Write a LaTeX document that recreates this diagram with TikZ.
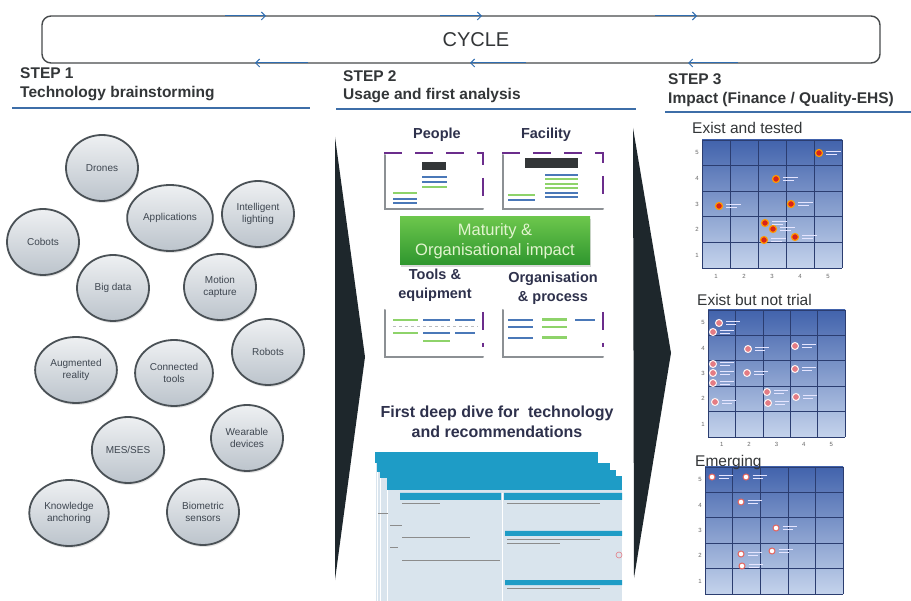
\documentclass[tikz,border=0pt]{standalone}
\usepackage{fontspec}
\setmainfont{Liberation Sans}
\usetikzlibrary{shapes.geometric,shadows,arrows.meta}

\definecolor{cycleblue}{HTML}{2F6DB0}
\definecolor{rulerblue}{HTML}{3D6EA8}
\definecolor{headgrey}{HTML}{333638}
\definecolor{ballline}{HTML}{4A5156}
\definecolor{balltop}{HTML}{EEF0F2}
\definecolor{ballbot}{HTML}{BCC4CC}
\definecolor{balltext}{HTML}{3E4650}
\definecolor{chevron}{HTML}{1E272C}
\definecolor{framepurple}{HTML}{6B2D8C}
\definecolor{axisgrey}{HTML}{8C9094}
\definecolor{thumbblue}{HTML}{4A78B8}
\definecolor{thumbgreen}{HTML}{8ED36A}
\definecolor{greentop}{HTML}{6CC64C}
\definecolor{greenbot}{HTML}{2E962E}
\definecolor{greentext}{HTML}{E2F4CF}
\definecolor{sheetteal}{HTML}{1E9CC6}
\definecolor{sheetbody}{HTML}{D9E4ED}
\definecolor{charttop}{HTML}{4263AC}
\definecolor{chartbot}{HTML}{C4D3EC}
\definecolor{gridnavy}{HTML}{2B3D70}
\definecolor{dotred}{HTML}{D8231B}
\definecolor{dotpink}{HTML}{E47C84}

% blue 5x5 chart with its y scale
\newcommand{\impactgrid}[5]{%
  \shade[top color=charttop, bottom color=chartbot] (#2,#3) rectangle (#4,#5);
  \foreach \k in {0,...,5}{%
    \pgfmathsetmacro{\gx}{#2+\k*(#4-#2)/5}%
    \pgfmathsetmacro{\gy}{#3+\k*(#5-#3)/5}%
    \draw[gridline] (\gx,#3) -- (\gx,#5);
    \draw[gridline] (#2,\gy) -- (#4,\gy);
  }%
  \foreach \k in {1,...,5}{%
    \pgfmathsetmacro{\ly}{#5-(\k-0.5)*(#5-#3)/5}%
    \node[axislabel] (#1y\k) at (#2-5,\ly) {\k};
  }%
}

\begin{document}
\begin{tikzpicture}[x=1pt,y=-1pt,
  techball/.style={ellipse, draw=ballline, line width=1.8pt, top color=balltop, bottom color=ballbot,
    minimum width=72, minimum height=66, align=center, text=balltext,
    font=\fontsize{10}{11.5}\selectfont, drop shadow={opacity=0.2, shadow xshift=1pt, shadow yshift=-2pt}},
  stephead/.style={anchor=west, text=headgrey, font=\bfseries\fontsize{15.5}{18}\selectfont, inner sep=0pt},
  steprule/.style={rulerblue, line width=1.8pt},
  cyclearrow/.style={cycleblue, line width=1pt, -{Straight Barb[length=4pt,width=8pt]}},
  thumbaxis/.style={axisgrey, line width=2pt, line cap=round},
  thumbedge/.style={framepurple, line width=2.6pt, dash pattern=on 18pt off 13pt},
  thumbtitle/.style={text=headgrey!90!blue, font=\bfseries\fontsize{14.5}{19}\selectfont, align=center},
  thumbline/.style={line width=1.6pt},
  gridline/.style={gridnavy, line width=0.6pt},
  axislabel/.style={text=black!60, font=\fontsize{6}{7}\selectfont, inner sep=0pt},
  charttitle/.style={anchor=west, text=headgrey, font=\fontsize{15.5}{18}\selectfont, inner sep=0pt},
  testeddot/.style={circle, fill=dotred, draw=orange!80!yellow, line width=1.2pt, inner sep=0pt, minimum size=7},
  trialdot/.style={circle, fill=dotpink, draw=white!85!pink, line width=1pt, inner sep=0pt, minimum size=7},
  emergedot/.style={circle, fill=white, draw=dotred!70, line width=1pt, inner sep=0pt, minimum size=6},
  dotnote/.style={white!90!blue, line width=0.9pt}
]
\useasboundingbox[fill=white] (0,0) rectangle (911,601);

% cycle box
\node[draw=headgrey!90, line width=1.4pt, rounded corners=9pt, minimum width=838, minimum height=47] (cycle) at (461,39.5) {};
\node[font=\fontsize{20}{24}\selectfont, text=headgrey] (cyclelabel) at (476,40) {CYCLE};
\foreach \s/\e [count=\i] in {225/266, 440/482, 655/697}{
  \coordinate (fwd\i a) at (\s,16);
  \coordinate (fwd\i b) at (\e,16);
  \draw[cyclearrow] (fwd\i a) -- (fwd\i b);
}
\foreach \s/\e [count=\i] in {308/255, 526/470, 738/688}{
  \coordinate (back\i a) at (\s,63);
  \coordinate (back\i b) at (\e,63);
  \draw[cyclearrow] (back\i a) -- (back\i b);
}

% step headers
\node[stephead] (step1) at (20,73) {STEP 1};
\node[stephead] (step1t) at (20,94) {Technology brainstorming};
\draw[steprule] (12,108) -- (310,108);
\node[stephead] (step2) at (343,76) {STEP 2};
\node[stephead] (step2t) at (343,96) {Usage and first analysis};
\draw[steprule] (336,109) -- (636,109);
\node[stephead] (step3) at (668,79) {STEP 3};
\node[stephead] (step3t) at (668,99) {Impact (Finance / Quality-EHS)};
\draw[steprule] (665,112) -- (911,112);

% step 1: technologies
\node[techball] (drones) at (102,168) {Drones};
\node[techball] (apps) at (170,218) {Applications};
\node[techball] (lighting) at (258,214) {Intelligent\\lighting};
\node[techball] (cobots) at (43,242) {Cobots};
\node[techball] (bigdata) at (113,288) {Big data};
\node[techball] (motion) at (220,287) {Motion\\capture};
\node[techball] (robots) at (268,352) {Robots};
\node[techball] (augmented) at (76,370) {Augmented\\reality};
\node[techball] (connected) at (174,373) {Connected\\tools};
\node[techball] (mes) at (128,450) {MES/SES};
\node[techball] (wearable) at (247,438) {Wearable\\devices};
\node[techball] (knowledge) at (69,513) {Knowledge\\anchoring};
\node[techball] (biometric) at (203,512) {Biometric\\sensors};

% chevrons
\fill[chevron] (335,137) -- (365,357) -- (335,580) -- cycle;
\fill[chevron] (633,128) -- (671,353) -- (634,578) -- cycle;

% step 2: four thumbnails
\node[thumbtitle] (people) at (437,135) {People};
\node[thumbtitle] (facility) at (546,135) {Facility};
\node[thumbtitle] (tools) at (435,285) {Tools \&\\equipment};
\node[thumbtitle] (orga) at (553,288) {Organisation\\\& process};

\draw[thumbaxis] (385,155) -- (385,209) -- (483,209);
\draw[thumbedge] (384,153) -- (483,153) -- (483,205);
\fill[headgrey] (422,162) rectangle (446,170);
\draw[thumbline,thumbblue] (422,177) -- (447,177) (422,182) -- (447,182) (393,199) -- (417,199) (393,203) -- (417,203);
\draw[thumbline,thumbgreen] (422,187) -- (447,187) (393,193) -- (417,193);

\draw[thumbaxis] (503,155) -- (503,209) -- (603,209);
\draw[thumbedge] (502,153) -- (603,153) -- (603,205);
\fill[headgrey] (525,158) rectangle (578,168);
\draw[thumbline,thumbblue] (545,175) -- (578,175) (545,193) -- (578,193) (545,197) -- (578,197) (508,200) -- (535,200);
\draw[thumbline,thumbgreen] (545,179) -- (578,179) (545,184) -- (578,184) (545,188) -- (578,188) (508,195) -- (535,195);

\draw[thumbaxis] (385,310) -- (385,357) -- (483,357);
\draw[thumbedge] (483,312) -- (483,347);
\draw[thumbline,thumbgreen] (393,320) -- (418,320) (393,333) -- (418,333) (423,341) -- (450,341);
\draw[thumbline,thumbblue] (423,320) -- (450,320) (455,320) -- (475,320) (423,333) -- (450,333) (455,333) -- (475,333);
\draw[axisgrey!60, dashed] (393,326) -- (478,326);

\draw[thumbaxis] (503,310) -- (503,357) -- (603,357);
\draw[thumbedge] (603,312) -- (603,347);
\draw[thumbline,thumbblue] (508,320) -- (533,320) (508,327) -- (533,327) (508,338) -- (533,338) (575,320) -- (595,320);
\draw[line width=3pt,thumbgreen] (542,320) -- (567,320) (542,338) -- (567,338);
\draw[thumbline,thumbgreen] (542,327) -- (567,327);

\node[top color=greentop, bottom color=greenbot, text=greentext, font=\fontsize{16.5}{20}\selectfont,
  minimum width=190, minimum height=48, inner sep=1pt, align=center, drop shadow={opacity=0.3, shadow xshift=1pt, shadow yshift=-2pt}]
  (maturity) at (495,241) {Maturity \&\\Organisational impact};

% step 2: deep dive sheets
\node[thumbtitle, font=\bfseries\fontsize{16}{20}\selectfont] (deepdive) at (497,422) {First deep dive for\ \ technology\\and recommendations};
\filldraw[fill=sheetbody, draw=white, line width=0.6pt] (375,452) rectangle (598,601);
\fill[sheetteal] (375,452) rectangle (598,463);
\filldraw[fill=sheetbody, draw=white, line width=0.6pt] (377,463) rectangle (610,601);
\fill[sheetteal] (377,463) rectangle (610,472);
\filldraw[fill=sheetbody, draw=white, line width=0.6pt] (380,470) rectangle (616,601);
\fill[sheetteal] (380,470) rectangle (616,478);
\filldraw[fill=sheetbody, draw=white, line width=0.6pt] (387,476) rectangle (622,601);
\fill[sheetteal] (387,476) rectangle (622,490);
\fill[sheetteal] (400,493) rectangle (501,500) (504,493) rectangle (622,500)
  (505,531) rectangle (622,536) (505,580) rectangle (622,585);
\draw[white, line width=0.8pt] (502,493) -- (502,601);
\draw[black!45, line width=0.5pt] (402,503) -- (440,503) (507,503) -- (600,503) (378,513) -- (388,513)
  (390,525) -- (402,525) (402,537) -- (470,537) (507,539) -- (600,539) (507,543) -- (560,543)
  (390,547) -- (398,547) (402,560) -- (500,560) (507,588) -- (600,588);
\draw[dotpink, line width=0.6pt] (619,555) circle (3);

% step 3: impact charts
\impactgrid{tested}{702}{140}{842}{268}
\foreach \k in {1,...,5}{
  \pgfmathsetmacro{\lx}{702+(\k-0.5)*28}
  \node[axislabel] (testedx\k) at (\lx,276) {\k};
}
\node[charttitle] (tested) at (692,128) {Exist and tested};
\foreach \px/\py [count=\i] in {819/153, 776/179, 719/206, 791/204, 765/223, 773/229, 764/240, 795/237}{
  \node[testeddot] (t\i) at (\px,\py) {};
  \draw[dotnote] ([xshift=3pt,yshift=1.5pt]t\i.east) -- ++(15,0) ([xshift=3pt,yshift=-1.5pt]t\i.east) -- ++(11,0);
}

\impactgrid{trial}{708}{310}{845}{437}
\foreach \k in {1,...,5}{
  \pgfmathsetmacro{\lx}{708+(\k-0.5)*27.4}
  \node[axislabel] (trialx\k) at (\lx,444) {\k};
}
\node[charttitle] (nottrial) at (697,300) {Exist but not trial};
\foreach \px/\py [count=\i] in {719/323, 713/332, 748/349, 795/346, 713/364, 713/373, 747/373, 713/383,
    795/369, 767/392, 796/397, 715/402, 768/403}{
  \node[trialdot] (n\i) at (\px,\py) {};
  \draw[dotnote] ([xshift=3pt,yshift=1.5pt]n\i.east) -- ++(14,0) ([xshift=3pt,yshift=-1.5pt]n\i.east) -- ++(10,0);
}

\impactgrid{emerge}{705}{467}{843}{594}
\node[charttitle] (emerging) at (695,462) {Emerging};
\foreach \px/\py [count=\i] in {712/477, 746/477, 741/502, 776/528, 772/551, 741/554, 742/566}{
  \node[emergedot] (e\i) at (\px,\py) {};
  \draw[dotnote] ([xshift=3pt,yshift=1.5pt]e\i.east) -- ++(14,0) ([xshift=3pt,yshift=-1.5pt]e\i.east) -- ++(10,0);
}
\end{tikzpicture}
\end{document}
